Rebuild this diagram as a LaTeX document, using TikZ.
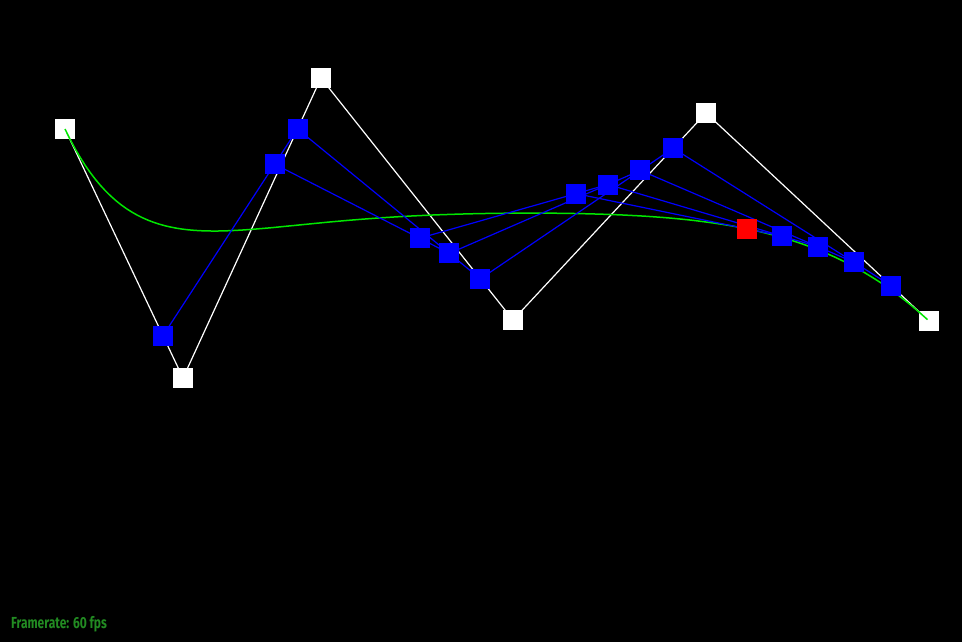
\documentclass[tikz,border=0pt]{standalone}
\usepackage{fontspec}
\newfontfamily\hudfont[FakeStretch=0.75]{Fira Sans}
\usepackage{tikz}
\usetikzlibrary{calc}
\definecolor{hudgreen}{RGB}{34,139,34}
\definecolor{curvegreen}{RGB}{0,230,0}
\newcommand{\tval}{0.83}

\begin{document}
\begin{tikzpicture}[
    x=1pt, y=-1pt,
    ctrl/.style={rectangle, fill=white, minimum size=20pt, inner sep=0pt},
    mid/.style={rectangle, fill=blue, minimum size=20pt, inner sep=0pt},
    cur/.style={rectangle, fill=red, minimum size=20pt, inner sep=0pt},
    poly/.style={white, line width=1.2pt},
    hull/.style={blue, line width=1.2pt}
]
    \fill[black] (0,0) rectangle (962,642);

    % control points
    \coordinate (p0) at (65,129);
    \coordinate (p1) at (183,378);
    \coordinate (p2) at (321,78);
    \coordinate (p3) at (513,320);
    \coordinate (p4) at (706,113);
    \coordinate (p5) at (929,321);

    % de Casteljau levels
    \coordinate (a0) at ($(p0)!\tval!(p1)$);
    \coordinate (a1) at ($(p1)!\tval!(p2)$);
    \coordinate (a2) at ($(p2)!\tval!(p3)$);
    \coordinate (a3) at ($(p3)!\tval!(p4)$);
    \coordinate (a4) at ($(p4)!\tval!(p5)$);
    \coordinate (b0) at ($(a0)!\tval!(a1)$);
    \coordinate (b1) at ($(a1)!\tval!(a2)$);
    \coordinate (b2) at ($(a2)!\tval!(a3)$);
    \coordinate (b3) at ($(a3)!\tval!(a4)$);
    \coordinate (c0) at ($(b0)!\tval!(b1)$);
    \coordinate (c1) at ($(b1)!\tval!(b2)$);
    \coordinate (c2) at ($(b2)!\tval!(b3)$);
    \coordinate (d0) at ($(c0)!\tval!(c1)$);
    \coordinate (d1) at ($(c1)!\tval!(c2)$);
    \coordinate (e) at ($(d0)!\tval!(d1)$);

    % control polygon
    \draw[poly] (p0) -- (p1) -- (p2) -- (p3) -- (p4) -- (p5);
    \foreach \i in {0,...,5} \node[ctrl] (n\i) at (p\i) {};

    % the curve
    \draw[curvegreen, line width=1.5pt] plot[domain=0:1, samples=120, variable=\t]
        ({(1-\t)^5*65 + 5*\t*(1-\t)^4*183 + 10*\t^2*(1-\t)^3*321 + 10*\t^3*(1-\t)^2*513 + 5*\t^4*(1-\t)*706 + \t^5*929},
         {(1-\t)^5*129 + 5*\t*(1-\t)^4*378 + 10*\t^2*(1-\t)^3*78 + 10*\t^3*(1-\t)^2*320 + 5*\t^4*(1-\t)*113 + \t^5*321});

    % intermediate lines
    \draw[hull] (a0) -- (a1) -- (a2) -- (a3) -- (a4);
    \draw[hull] (b0) -- (b1) -- (b2) -- (b3);
    \draw[hull] (c0) -- (c1) -- (c2);
    \draw[hull] (d0) -- (d1);
    \foreach \p in {a0,a1,a2,a3,a4,b0,b1,b2,b3,c0,c1,c2,d0,d1}
        \node[mid] (m\p) at (\p) {};
    \node[cur] (pt) at (e) {};

    \node[anchor=base west, inner sep=0pt, text=hudgreen,
          font=\hudfont\bfseries\fontsize{16}{16}\selectfont] (fps) at (11,628) {Framerate: 60 fps};
\end{tikzpicture}
\end{document}
